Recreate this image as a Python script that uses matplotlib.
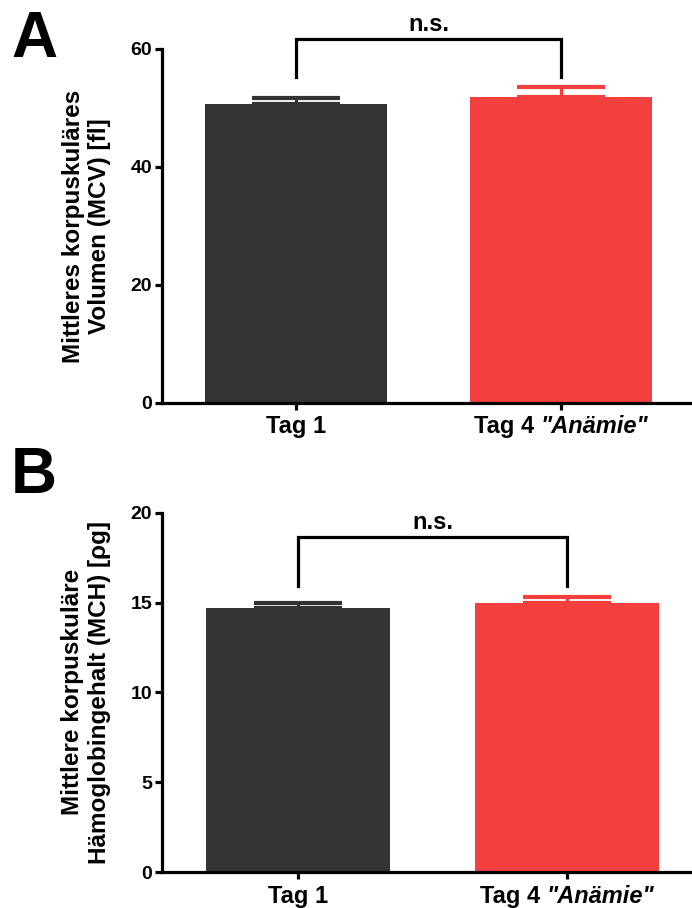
import matplotlib
matplotlib.use("Agg")
import matplotlib.pyplot as plt
from matplotlib import font_manager
from matplotlib.offsetbox import TextArea, HPacker, AnnotationBbox

# data
groups = ["Tag 1", "Tag 4 "]
group_note = ["", '"Anämie"']
colors = ["#333333", "#F43F3F"]
mcv_mean = [50.7, 51.9]
mcv_err = [1.0, 1.6]
mch_mean = [14.72, 15.0]
mch_err = [0.24, 0.33]
mcv_ticks = [0, 20, 40, 60]
mch_ticks = [0, 5, 10, 15, 20]

names = {f.name for f in font_manager.fontManager.ttflist}
narrow = "Liberation Sans Narrow" if "Liberation Sans Narrow" in names else "Liberation Sans"

LW = 2.3


def xlabel(ax, xi, main, note):
    props = dict(fontsize=17, fontweight="bold", family=narrow)
    parts = [TextArea(main, textprops=props)]
    if note:
        parts.append(TextArea(note, textprops=dict(props, style="italic")))
    box = HPacker(children=parts, pad=0, sep=0)
    ab = AnnotationBbox(box, (xi, 0), xycoords=ax.get_xaxis_transform(),
                        xybox=(0, -9), boxcoords="offset points",
                        box_alignment=(0.5, 1.0), frameon=False,
                        annotation_clip=False)
    ax.add_artist(ab)


def panel(ax, means, errs, ticks, ylabel, bracket, ns_y, xmax):
    x = [0, 1]
    ax.bar(x, means, width=0.685, color=colors, zorder=2)
    for xi, m, e, c in zip(x, means, errs, colors):
        ax.errorbar(xi, m, yerr=[[0], [e]], color=c, lw=LW, capsize=31.5,
                    capthick=3.0, zorder=1)
    top, leg = bracket
    ax.plot([0, 0, 1, 1], [leg, top, top, leg], color="black", lw=LW,
            clip_on=False, solid_joinstyle="miter")
    ax.text(0.5, ns_y, "n.s.", ha="center", va="bottom", fontsize=17,
            fontweight="bold", family=narrow)
    ax.set_xlim(-0.506, xmax)
    ax.set_ylim(ticks[0], ticks[-1])
    ax.set_yticks(ticks)
    ax.set_xticks(x)
    ax.set_xticklabels([])
    for xi, g, n in zip(x, groups, group_note):
        xlabel(ax, xi, g.strip() if not n else g, n)
    for s in ["top", "right"]:
        ax.spines[s].set_visible(False)
    for s in ["left", "bottom"]:
        ax.spines[s].set_linewidth(LW)
    ax.tick_params(width=LW, length=5, direction="out")
    ax.tick_params(axis="y", labelsize=14, pad=2)
    for lab in ax.get_yticklabels():
        lab.set_fontfamily(narrow)
        lab.set_fontweight("bold")
    ax.set_ylabel(ylabel, fontsize=17.5, fontweight="bold",
                  family="Liberation Sans", linespacing=1.2, labelpad=14)


fig = plt.figure(figsize=(6.92, 9.08), dpi=100)
axA = fig.add_axes([0.234, 0.5562, 0.763, 0.390])
axB = fig.add_axes([0.234, 0.0396, 0.763, 0.3958])

panel(axA, mcv_mean, mcv_err, mcv_ticks,
      "Mittleres korpuskuläres\nVolumen (MCV) [fl]", (61.7, 55.2), 62.1, 1.487)
panel(axB, mch_mean, mch_err, mch_ticks,
      "Mittlere korpuskuläre\nHämoglobingehalt (MCH) [ρg]", (18.62, 15.93), 18.8, 1.457)

fig.text(0.016, 0.937, "A", fontsize=46, fontweight="bold",
         family="Liberation Sans", va="baseline")
fig.text(0.016, 0.457, "B", fontsize=46, fontweight="bold",
         family="Liberation Sans", va="baseline")

fig.savefig("out.png", dpi=100)
